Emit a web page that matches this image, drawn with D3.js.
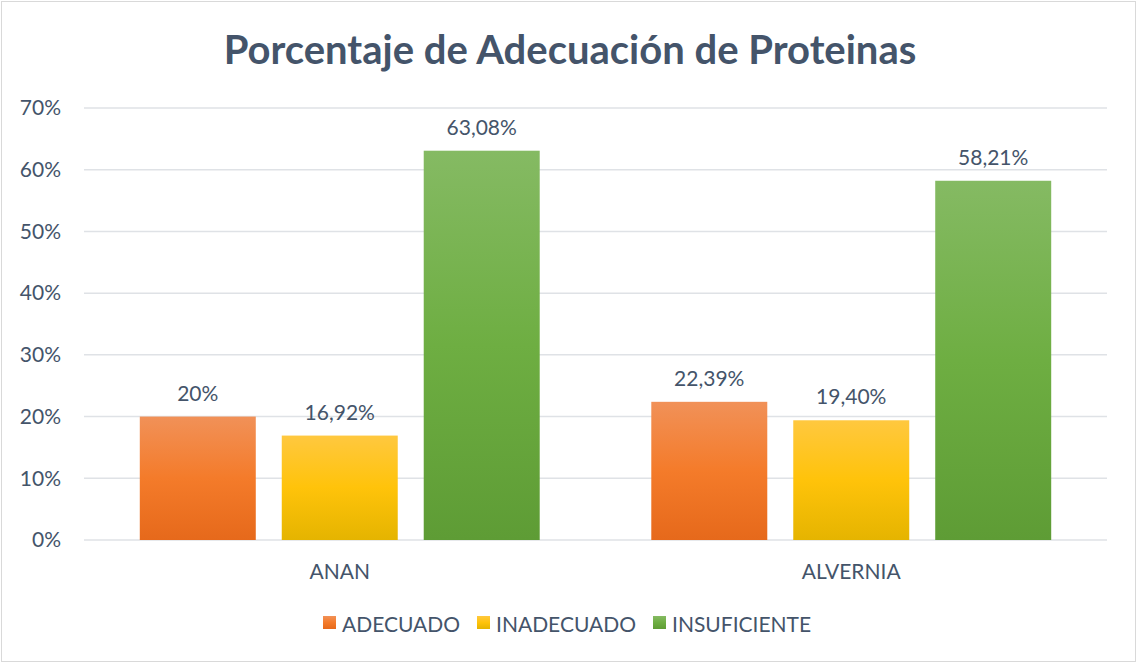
<!DOCTYPE html>
<html>
<head>
<meta charset="utf-8">
<script src="https://cdn.jsdelivr.net/npm/d3@7"></script>
<style>
  body { margin: 0; background: #fff; }
  text { font-family: Lato, "Open Sans", sans-serif; }
</style>
</head>
<body>
<script>
'use strict';

// chart data
const categories = ["ANAN", "ALVERNIA"];
const series = ["ADECUADO", "INADECUADO", "INSUFICIENTE"];
const adecuado = [20, 22.39];
const inadecuado = [16.92, 19.40];
const insuficiente = [63.08, 58.21];
const valueLabels = [["20%", "16,92%", "63,08%"], ["22,39%", "19,40%", "58,21%"]];
const yTicks = [0, 10, 20, 30, 40, 50, 60, 70];

const width = 1137, height = 663;
const textColor = "#44546A";

// gradient stops per series (top, middle, bottom)
const colors = {
  ADECUADO: ["#F19158", "#F47B2A", "#E6691B"],
  INADECUADO: ["#FFC83F", "#FFC30A", "#E5B400"],
  INSUFICIENTE: ["#85BA63", "#6EAE42", "#5E9C35"]
};

let svg = d3.select("body").append("svg")
  .attr("width", width)
  .attr("height", height);

// gradients
let defs = svg.append("defs");
series.forEach((s, i) => {
  let g = defs.append("linearGradient")
    .attr("id", "grad" + i)
    .attr("x1", 0).attr("y1", 0).attr("x2", 0).attr("y2", 1);
  g.append("stop").attr("offset", "0%").attr("stop-color", colors[s][0]);
  g.append("stop").attr("offset", "50%").attr("stop-color", colors[s][1]);
  g.append("stop").attr("offset", "100%").attr("stop-color", colors[s][2]);
});

// outer frame
svg.append("rect")
  .attr("x", 1.5).attr("y", 1.5)
  .attr("width", width - 3).attr("height", height - 3)
  .attr("fill", "#fff")
  .attr("stroke", "#D9D9D9")
  .attr("stroke-width", 1);

// title
svg.append("text")
  .attr("x", 570)
  .attr("y", 64)
  .attr("text-anchor", "middle")
  .style("font-size", "40px")
  .style("font-weight", "bold")
  .style("fill", textColor)
  .text("Porcentaje de Adecuación de Proteinas");

// scales
let y = d3.scaleLinear().domain([0, 70]).range([540, 108]);
let x0 = d3.scaleBand().domain(categories).range([84, 1107]);
let x1 = d3.scaleBand().domain(series).range([0, x0.bandwidth()])
  .paddingInner(0.183).paddingOuter(0.393);

// gridlines
svg.append("g")
  .selectAll("line")
  .data(yTicks)
  .enter()
  .append("line")
  .attr("x1", 84).attr("x2", 1107)
  .attr("y1", d => y(d)).attr("y2", d => y(d))
  .attr("stroke", "#DFE2E6")
  .attr("stroke-width", 1.5);

// y axis labels
let yAxis = d3.axisLeft(y).tickValues(yTicks).tickSize(0).tickFormat(d => d + "%");
svg.append("g")
  .attr("transform", "translate(61,0)")
  .call(yAxis)
  .call(g => g.select(".domain").remove())
  .selectAll("text")
  .style("font-size", "21px")
  .style("font-family", "Lato, sans-serif")
  .style("fill", textColor)
  .attr("x", 0);

// x axis labels
let xAxis = d3.axisBottom(x0).tickSize(0);
svg.append("g")
  .attr("transform", "translate(0,561)")
  .call(xAxis)
  .call(g => g.select(".domain").remove())
  .selectAll("text")
  .style("font-size", "21px")
  .style("font-family", "Lato, sans-serif")
  .style("fill", textColor);

// bars
let rows = categories.map((c, i) => ({
  cat: c,
  vals: [adecuado[i], inadecuado[i], insuficiente[i]],
  labels: valueLabels[i]
}));

let groups = svg.selectAll(".grp")
  .data(rows)
  .enter()
  .append("g")
  .attr("class", "grp")
  .attr("transform", d => "translate(" + x0(d.cat) + ",0)");

let cells = groups.selectAll(".cell")
  .data(d => d.vals.map((v, j) => ({ s: series[j], v: v, label: d.labels[j], j: j })))
  .enter();

cells.append("rect")
  .attr("x", d => x1(d.s))
  .attr("y", d => y(d.v))
  .attr("width", x1.bandwidth())
  .attr("height", d => y(0) - y(d.v))
  .attr("fill", d => "url(#grad" + d.j + ")");

cells.append("text")
  .attr("x", d => x1(d.s) + x1.bandwidth() / 2)
  .attr("y", d => y(d.v) - 16)
  .attr("text-anchor", "middle")
  .style("font-size", "21px")
  .style("fill", textColor)
  .text(d => d.label);

// legend
let legendX = [323, 477, 653];
let legend = svg.append("g");
series.forEach((s, i) => {
  legend.append("rect")
    .attr("x", legendX[i]).attr("y", 616)
    .attr("width", 13).attr("height", 13)
    .attr("fill", "url(#grad" + i + ")");
  legend.append("text")
    .attr("x", legendX[i] + 19)
    .attr("y", 632)
    .style("font-size", "21px")
    .style("fill", textColor)
    .text(s);
});
</script>
</body>
</html>
